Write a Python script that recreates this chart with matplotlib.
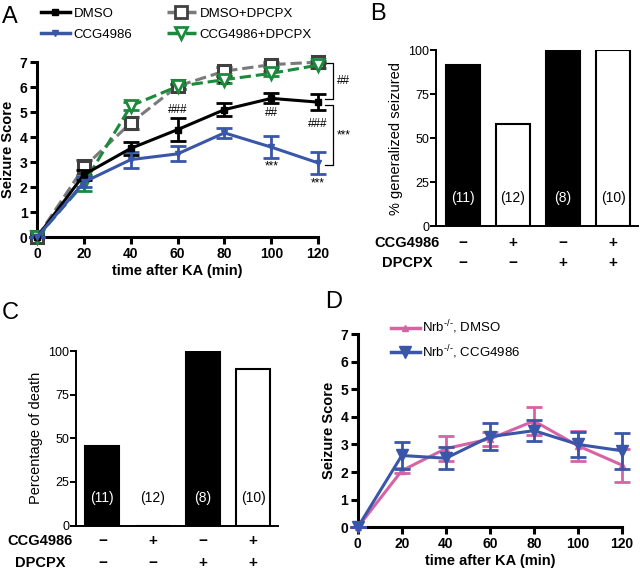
import numpy as np
import matplotlib
matplotlib.use('Agg')
import matplotlib.pyplot as plt
from matplotlib.lines import Line2D

plt.rcParams['font.family'] = ['Liberation Sans', 'DejaVu Sans']
plt.rcParams['mathtext.default'] = 'regular'

# Panel A data
time = [0, 20, 40, 60, 80, 100, 120]
dmso = [0, 2.5, 3.55, 4.3, 5.1, 5.55, 5.4]
dmso_err = [0, 0.2, 0.25, 0.45, 0.25, 0.2, 0.32]
ccg = [0, 2.2, 3.1, 3.33, 4.17, 3.6, 2.97]
ccg_err = [0, 0.2, 0.32, 0.3, 0.2, 0.43, 0.45]
dmso_dp = [0, 2.8, 4.57, 6.04, 6.64, 6.9, 7.0]
dmso_dp_err = [0, 0.3, 0.25, 0.1, 0.18, 0.1, 0.05]
ccg_dp = [0, 2.15, 5.25, 6.03, 6.3, 6.55, 6.88]
ccg_dp_err = [0, 0.3, 0.15, 0.1, 0.15, 0.1, 0.1]

# Panel B / C data
groups_n = ['(11)', '(12)', '(8)', '(10)']
ccg_row = ['\u2212', '+', '\u2212', '+']
dpcpx_row = ['\u2212', '\u2212', '+', '+']
bar_colors = ['black', 'white', 'black', 'white']
pct_general = [91.7, 58.3, 100, 100]
pct_death = [45.5, 0, 100, 90]

# Panel D data
nrb_dmso = [0, 2.05, 2.85, 3.2, 3.85, 2.95, 2.25]
nrb_dmso_err = [0, 0.1, 0.45, 0.25, 0.5, 0.55, 0.6]
nrb_ccg = [0, 2.6, 2.5, 3.28, 3.5, 3.0, 2.77]
nrb_ccg_err = [0, 0.48, 0.4, 0.48, 0.39, 0.45, 0.65]

blue = '#3a56a8'
green = '#1c8a3c'
gray = '#7a7a7a'
pink = '#d862a6'

fig = plt.figure(figsize=(6.4, 5.7), dpi=100)


def style_line_axes(ax):
    for s in ['top', 'right']:
        ax.spines[s].set_visible(False)
    for s in ['left', 'bottom']:
        ax.spines[s].set_linewidth(2.2)
    ax.tick_params(width=2.2, length=5, labelsize=10, pad=2)
    ax.set_xlim(0, 120)
    ax.set_ylim(0, 7)
    ax.set_xticks(time)
    ax.set_yticks(range(8))
    ax.set_xlabel('time after KA (min)', fontsize=10.5, fontweight='bold', labelpad=2)
    ax.set_ylabel('Seizure Score', fontsize=10.5, fontweight='bold', labelpad=3)
    for lab in ax.get_xticklabels() + ax.get_yticklabels():
        lab.set_fontweight('bold')


# ---------------- A
axA = fig.add_axes([0.058, 0.584, 0.439, 0.307])
kw = dict(capsize=6, capthick=2, elinewidth=2, lw=2.2, clip_on=False)
axA.errorbar(time, dmso_dp, yerr=dmso_dp_err, color=gray, ls='--', marker='s', ms=9,
             mfc='white', mec='#404040', mew=2.2, ecolor='#404040', zorder=3, **kw)
axA.errorbar(time, ccg_dp, yerr=ccg_dp_err, color=green, ls='--', marker='v', ms=9,
             mfc='white', mec=green, mew=2, ecolor=green, zorder=3, **kw)
axA.errorbar(time, dmso, yerr=dmso_err, color='black', marker='s', ms=4,
             ecolor='black', zorder=4, **kw)
axA.errorbar(time, ccg, yerr=ccg_err, color=blue, marker='v', ms=5,
             ecolor=blue, zorder=4, **kw)
style_line_axes(axA)

ann = [(60, 5.1, '###'), (80, 6.2, '##'), (100, 4.97, '##'), (120, 4.53, '###'),
       (100, 2.84, '***'), (120, 2.13, '***')]
for x, y, t in ann:
    axA.text(x, y, t, ha='center', va='center', fontsize=8.5)

# brackets on the right
for y0, y1, t in [(6.96, 5.52, '##'), (5.28, 2.88, '***')]:
    axA.plot([123, 126.4, 126.4, 123], [y0, y0, y1, y1], color='black', lw=0.9, clip_on=False)
    axA.text(128, (y0 + y1) / 2, t, ha='left', va='center', fontsize=8.5)

handles = [
    Line2D([], [], color='black', marker='s', ms=4, lw=2.5),
    Line2D([], [], color=blue, marker='v', ms=5, lw=2.5),
    Line2D([], [], color=gray, ls='--', marker='s', ms=8, mfc='white', mec='#404040', mew=2, lw=2.5),
    Line2D([], [], color=green, ls='--', marker='v', ms=8, mfc='white', mec=green, mew=2, lw=2.5),
]
fig.legend(handles, ['DMSO', 'CCG4986', 'DMSO+DPCPX', 'CCG4986+DPCPX'], ncol=2,
           loc='upper left', bbox_to_anchor=(0.045, 1.008), frameon=False, fontsize=9.5,
           handlelength=2.2, handletextpad=0.3, columnspacing=2.6, labelspacing=0.7)
fig.text(0.003, 0.99, 'A', fontsize=17, va='top', ha='left')


def bar_panel(ax, values, ylabel, row_x, row_y):
    x = np.arange(len(values))
    ax.bar(x, values, width=0.68, color=bar_colors, edgecolor='black', linewidth=1.5)
    ax.set_xlim(-0.52, 3.5)
    ax.set_ylim(0, 100)
    ax.set_yticks([0, 25, 50, 75, 100])
    ax.set_xticks([])
    for s in ['top', 'right']:
        ax.spines[s].set_visible(False)
    for s in ['left', 'bottom']:
        ax.spines[s].set_linewidth(1.4)
    ax.tick_params(axis='y', width=1.4, length=4, labelsize=9, pad=1)
    ax.set_ylabel(ylabel, fontsize=10.5, labelpad=4)
    for i, n in enumerate(groups_n):
        ax.text(i, 16, n, ha='center', va='center', fontsize=10,
                color='white' if bar_colors[i] == 'black' else 'black')
    for row, label, ry in [(ccg_row, 'CCG4986', row_y[0]), (dpcpx_row, 'DPCPX', row_y[1])]:
        ax.text(row_x, ry, label, ha='center', va='center', fontsize=10.5,
                fontweight='bold', clip_on=False)
        for i, sgn in enumerate(row):
            ax.text(i, ry, sgn, ha='center', va='center', fontsize=11,
                    fontweight='bold', clip_on=False)


# ---------------- B
axB = fig.add_axes([0.682, 0.603, 0.315, 0.309])
bar_panel(axB, pct_general, '% generalized seizured', -1.11, (-9.4, -21))
fig.text(0.578, 0.995, 'B', fontsize=17, va='top', ha='left')

# ---------------- C
axC = fig.add_axes([0.119, 0.078, 0.316, 0.306])
bar_panel(axC, pct_death, 'Percentage of death', -1.24, (-8.9, -21.5))
fig.text(0.003, 0.47, 'C', fontsize=17, va='top', ha='left')

# ---------------- D
axD = fig.add_axes([0.559, 0.075, 0.413, 0.339])
axD.errorbar(time, nrb_dmso, yerr=nrb_dmso_err, color=pink, marker='^', ms=4,
             ecolor=pink, zorder=3, **kw)
axD.errorbar(time, nrb_ccg, yerr=nrb_ccg_err, color=blue, marker='v', ms=8,
             ecolor=blue, zorder=4, **kw)
style_line_axes(axD)
hD = [Line2D([], [], color=pink, marker='^', ms=4, lw=2.5),
      Line2D([], [], color=blue, marker='v', ms=8, lw=2.5)]
sup = '$^{\u2010/\u2010}$'
axD.legend(hD, ['Nrb' + sup + ', DMSO', 'Nrb' + sup + ', CCG4986'], loc='upper left',
           bbox_to_anchor=(0.08, 1.14), frameon=False, fontsize=9.5,
           handlelength=2.2, handletextpad=0.2, labelspacing=0.5)
fig.text(0.508, 0.49, 'D', fontsize=17, va='top', ha='left')

fig.savefig('out.png', dpi=100)
